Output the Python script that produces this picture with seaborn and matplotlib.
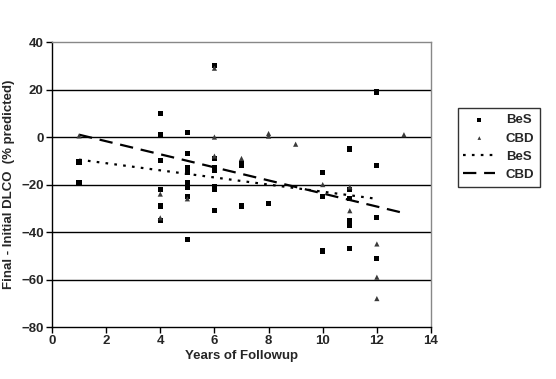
import pandas as pd
import matplotlib
matplotlib.use("Agg")
import matplotlib.pyplot as plt
import seaborn as sns

# BeS patients (squares)
bes_years = [1, 1,
             4, 4, 4, 4, 4, 4,
             5, 5, 5, 5, 5, 5, 5, 5, 5, 5,
             6, 6, 6, 6, 6, 6, 6,
             7, 7, 7,
             8,
             10, 10, 10,
             11, 11, 11, 11, 11, 11,
             12, 12, 12, 12]
bes_change = [-10.5, -19,
              10, 1, -10, -22, -29, -35,
              2, -7, -13, -14, -15, -19, -20, -21, -25, -43,
              30, -9, -13, -14, -21, -22, -31,
              -11, -12, -29,
              -28,
              -15, -25, -48,
              -5, -22, -26, -35, -37, -47,
              19, -12, -34, -51]

# CBD patients (triangles)
cbd_years = [1, 4, 4, 5, 6, 6, 6, 7, 8, 8, 9, 10, 11, 11, 12, 12, 12, 13]
cbd_change = [0.5, -24, -34, -26, 29, 0, -8, -9, 1.5, 0.4, -3, -20, -21, -31,
              -45, -59, -68, 1]

# trend line end points
bes_trend_x = [1, 12]
bes_trend_y = [-9.5, -26]
cbd_trend_x = [1, 13]
cbd_trend_y = [1, -32]

x_ticks = [0, 2, 4, 6, 8, 10, 12, 14]
y_ticks = [-80, -60, -40, -20, 0, 20, 40]

sns.set_style("white")
plt.rcParams["font.family"] = ["Liberation Sans", "DejaVu Sans"]

fig = plt.figure(figsize=(5.56, 3.79), dpi=100)
ax = fig.add_axes([0.0935, 0.137, 0.6817, 0.752])

df_bes = pd.DataFrame({"x": bes_years, "y": bes_change})
df_cbd = pd.DataFrame({"x": cbd_years, "y": cbd_change})

# horizontal grid lines
for yv in y_ticks[1:-1]:
    ax.axhline(yv, color="black", linewidth=1.0, zorder=0)

sns.scatterplot(data=df_bes, x="x", y="y", marker="s", s=14, color="black",
                edgecolor="none", ax=ax, label="BeS", zorder=3)
sns.scatterplot(data=df_cbd, x="x", y="y", marker="^", s=14, color="#3a3a3a",
                edgecolor="none", ax=ax, label="CBD", zorder=3)
sns.lineplot(x=bes_trend_x, y=bes_trend_y, ax=ax, color="black", linewidth=1.6,
             linestyle=(0, (1.2, 2.8)), label="BeS", zorder=2)
sns.lineplot(x=cbd_trend_x, y=cbd_trend_y, ax=ax, color="black", linewidth=1.6,
             linestyle=(0, (6, 3.5)), label="CBD", zorder=2)

ax.set_xlim(0, 14)
ax.set_ylim(-80, 40)
ax.set_xticks(x_ticks)
ax.set_yticks(y_ticks)
ax.tick_params(axis="both", direction="out", length=4, width=1, color="black",
               labelsize=9.5, pad=2, bottom=True, left=True)
for lab in ax.get_xticklabels() + ax.get_yticklabels():
    lab.set_fontweight("bold")

ax.spines["left"].set_color("black")
ax.spines["bottom"].set_color("black")
ax.spines["top"].set_color("#888888")
ax.spines["right"].set_color("#888888")
for sp in ax.spines.values():
    sp.set_linewidth(1)

ax.set_xlabel("Years of Followup", fontsize=9.5, fontweight="bold", labelpad=2)
ax.set_ylabel("Final - Initial DLCO  (% predicted)", fontsize=9.5,
              fontweight="bold", labelpad=4)

handles, labels = ax.get_legend_handles_labels()
leg = ax.legend(handles, labels, loc="upper left", bbox_to_anchor=(1.07, 0.768),
                frameon=True, fancybox=False, edgecolor="black",
                prop={"size": 9.5, "weight": "bold"}, markerscale=0.7,
                handlelength=2.4, borderpad=0.45, labelspacing=0.45,
                borderaxespad=0)
leg.get_frame().set_linewidth(1)

fig.savefig("out.png", dpi=100)
